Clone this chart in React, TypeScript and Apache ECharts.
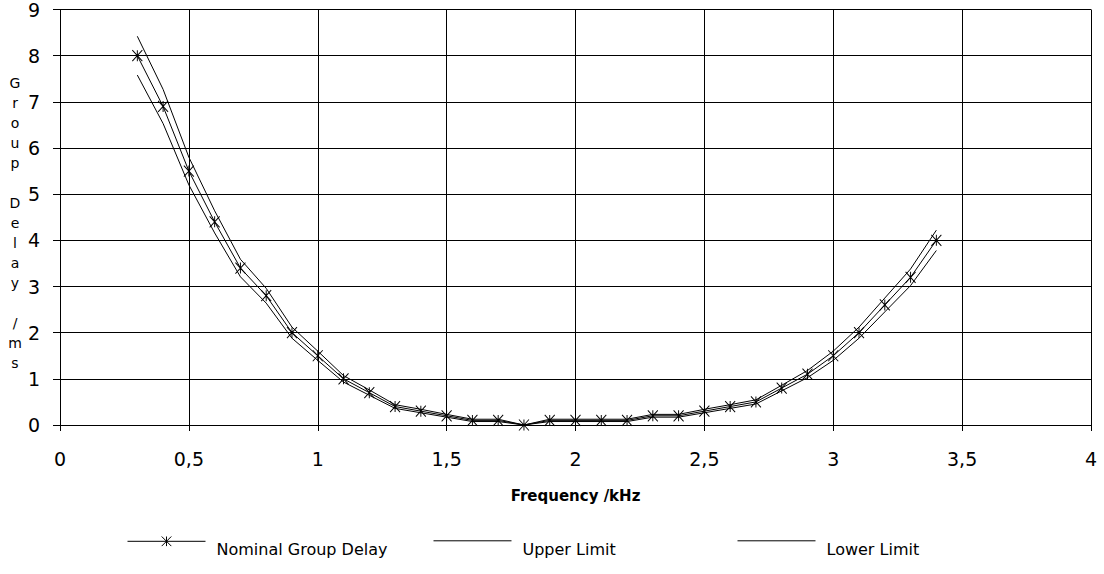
import React, { useEffect, useRef } from "react";
import * as echarts from "echarts";

// Frequency (kHz) of each measured point
const frequencies = [
  0.3, 0.4, 0.5, 0.6, 0.7, 0.8, 0.9, 1.0, 1.1, 1.2, 1.3, 1.4, 1.5, 1.6, 1.7, 1.8,
  1.9, 2.0, 2.1, 2.2, 2.3, 2.4, 2.5, 2.6, 2.7, 2.8, 2.9, 3.0, 3.1, 3.2, 3.3, 3.4,
];

// Group delay (ms)
const nominalDelay = [
  8.0, 6.9, 5.5, 4.4, 3.4, 2.8, 2.0, 1.5, 1.0, 0.7, 0.4, 0.3, 0.2, 0.1, 0.1, 0.0,
  0.1, 0.1, 0.1, 0.1, 0.2, 0.2, 0.3, 0.4, 0.5, 0.8, 1.1, 1.5, 2.0, 2.6, 3.2, 4.0,
];
const upperLimit = [
  8.42, 7.27, 5.8, 4.64, 3.59, 2.96, 2.12, 1.6, 1.07, 0.76, 0.44, 0.34, 0.23, 0.125, 0.125, 0.0,
  0.125, 0.125, 0.125, 0.125, 0.23, 0.23, 0.34, 0.44, 0.545, 0.86, 1.18, 1.6, 2.12, 2.75, 3.38, 4.22,
];
const lowerLimit = [
  7.58, 6.53, 5.2, 4.16, 3.21, 2.64, 1.88, 1.4, 0.93, 0.645, 0.36, 0.265, 0.17, 0.075, 0.075, 0.0,
  0.075, 0.075, 0.075, 0.075, 0.17, 0.17, 0.265, 0.36, 0.455, 0.74, 1.025, 1.4, 1.88, 2.45, 3.02, 3.78,
];

const xTickLabels = ["0", "0,5", "1", "1,5", "2", "2,5", "3", "3,5", "4"];
const yTickLabels = ["0", "1", "2", "3", "4", "5", "6", "7", "8", "9"];
const seriesNames = ["Nominal Group Delay", "Upper Limit", "Lower Limit"];
const xAxisTitle = "Frequency /kHz";
const yAxisTitle = "Group Delay /ms";

const BLACK = "#000000";
const FONT = "DejaVu Sans";

function pairs(ys: number[]) {
  return frequencies.map((f, i) => [f, ys[i]]);
}

export default function App() {
  const ref = useRef<HTMLDivElement>(null);

  useEffect(() => {
    if (!ref.current) return;
    const chart = echarts.init(ref.current, null, { renderer: "svg" });
    const asterisk = "path://M0,0L10,11M10,0L0,11M5,0L5,11";

    const legendBase = {
      orient: "horizontal",
      top: 536,
      padding: 0,
      itemWidth: 78,
      itemHeight: 12,
      selectedMode: false,
      formatter: (name: string) => "{t|" + name + "}",
      textStyle: {
        fontFamily: FONT,
        fontSize: 16,
        color: BLACK,
        rich: {
          t: {
            fontFamily: FONT,
            fontSize: 16,
            color: BLACK,
            padding: [17, 0, 0, 6],
          },
        },
      },
      lineStyle: { width: 1, color: BLACK },
    };

    chart.setOption({
      animation: false,
      backgroundColor: "#ffffff",
      textStyle: { fontFamily: FONT, color: BLACK },
      grid: { left: 60, right: 13, top: 9, bottom: 149, containLabel: false },
      xAxis: {
        type: "value",
        min: 0,
        max: 4,
        interval: 0.5,
        name: xAxisTitle,
        nameLocation: "middle",
        nameGap: 63,
        nameTextStyle: { fontFamily: FONT, fontWeight: "bold", fontSize: 15, color: BLACK },
        axisLine: { show: true, lineStyle: { color: BLACK, width: 1 } },
        axisTick: { show: true, inside: false, length: 6, lineStyle: { color: BLACK, width: 1 } },
        axisLabel: {
          fontFamily: FONT,
          fontSize: 19,
          color: BLACK,
          margin: 24,
          formatter: (v: number) => xTickLabels[Math.round(v / 0.5)] ?? "",
        },
        splitLine: { show: true, lineStyle: { color: BLACK, width: 1 } },
      },
      yAxis: {
        type: "value",
        min: 0,
        max: 9,
        interval: 1,
        axisLine: { show: true, lineStyle: { color: BLACK, width: 1 } },
        axisTick: { show: true, inside: false, length: 7, lineStyle: { color: BLACK, width: 1 } },
        axisLabel: {
          fontFamily: FONT,
          fontSize: 19,
          color: BLACK,
          margin: 20,
          formatter: (v: number) => yTickLabels[Math.round(v)] ?? "",
        },
        splitLine: { show: true, lineStyle: { color: BLACK, width: 1 } },
      },
      legend: [
        {
          ...legendBase,
          left: 127,
          data: [seriesNames[0]],
          itemStyle: { color: "rgba(0,0,0,0)", borderColor: BLACK, borderWidth: 1 },
        },
        {
          ...legendBase,
          left: 433,
          data: [seriesNames[1]],
          itemStyle: { opacity: 0 },
        },
        {
          ...legendBase,
          left: 737,
          data: [seriesNames[2]],
          itemStyle: { opacity: 0 },
        },
      ],
      graphic: [
        {
          type: "text",
          x: 15,
          y: 73,
          silent: true,
          style: {
            text: yAxisTitle.split("").join("\n"),
            fontFamily: FONT,
            fontSize: 14,
            lineHeight: 20,
            fill: BLACK,
            align: "center",
            verticalAlign: "top",
            textAlign: "center",
            textVerticalAlign: "top",
          },
        },
      ],
      series: [
        {
          name: seriesNames[1],
          type: "line",
          data: pairs(upperLimit),
          symbol: "none",
          lineStyle: { color: BLACK, width: 1 },
          itemStyle: { color: BLACK },
          z: 3,
        },
        {
          name: seriesNames[2],
          type: "line",
          data: pairs(lowerLimit),
          symbol: "none",
          lineStyle: { color: BLACK, width: 1 },
          itemStyle: { color: BLACK },
          z: 3,
        },
        {
          name: seriesNames[0],
          type: "line",
          data: pairs(nominalDelay),
          symbol: asterisk,
          symbolSize: [10, 11],
          showSymbol: true,
          lineStyle: { color: BLACK, width: 1 },
          itemStyle: { color: "rgba(0,0,0,0)", borderColor: BLACK, borderWidth: 1 },
          z: 4,
        },
      ],
    });

    return () => {
      chart.dispose();
    };
  }, []);

  return (
    <div
      ref={ref}
      style={{ position: "fixed", left: 0, top: 0, width: 1104, height: 574, background: "#fff" }}
    />
  );
}
